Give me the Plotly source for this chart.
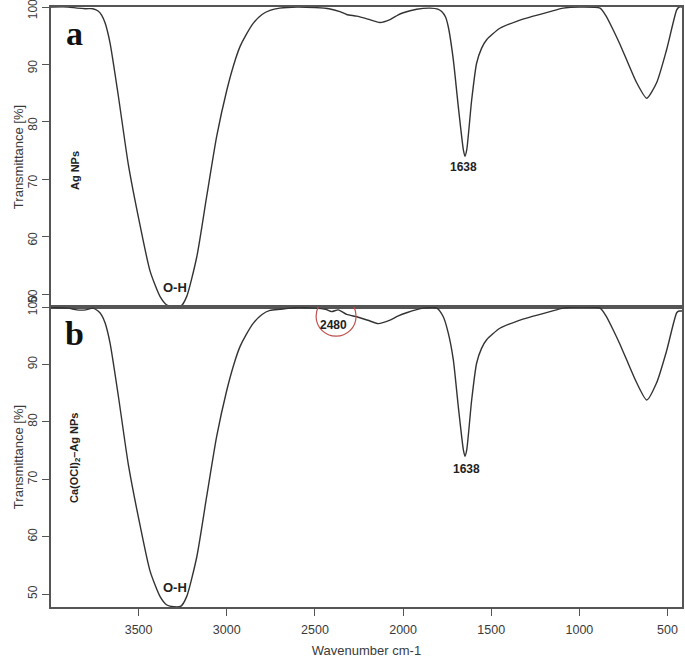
import plotly.graph_objects as go

# ---- data ----
wavenumber_a = [3997, 3900, 3850, 3800, 3760, 3730, 3710, 3690, 3662, 3615, 3558, 3492, 3435, 3379,
                3340, 3300, 3260, 3227, 3170, 3114, 3057, 3000, 2960, 2925, 2890, 2849, 2800, 2755,
                2700, 2600, 2500, 2420, 2358, 2320, 2263, 2200, 2131, 2074, 2030, 1999, 1923, 1848,
                1800, 1781, 1760, 1744, 1715, 1687, 1658, 1649, 1639, 1611, 1583, 1555, 1526, 1451,
                1356, 1262, 1167, 1091, 1000, 883, 850, 808, 770, 732, 675, 618, 562, 505, 448, 434, 418]
transmittance_a = [100, 100, 99.8, 99.7, 99.7, 99.3, 98.6, 97.2, 93.7, 84.5, 72.5, 62, 54, 49.6,
                   48.1, 47.8, 47.9, 49.6, 56.5, 67, 77.5, 85.5, 90, 93.1, 95.2, 97.2, 98.7, 99.4,
                   99.8, 100, 99.9, 99.7, 99.2, 98.7, 98.4, 97.9, 97.3, 97.8, 98.6, 99.0, 99.6, 99.8,
                   99.6, 99.2, 98.3, 96.6, 90.8, 82.7, 75.1, 74.0, 75.1, 83.8, 90.2, 92.8, 94.3, 96.3,
                   97.5, 98.4, 99.2, 99.8, 100, 99.8, 98.5, 96, 93.5, 90.8, 86.8, 84.1, 86.8, 92.6, 99.5, 100, 100]

wavenumber_b = [3997, 3900, 3850, 3800, 3760, 3730, 3710, 3690, 3662, 3615, 3558, 3492, 3435, 3379,
                3340, 3300, 3260, 3227, 3170, 3114, 3057, 3000, 2960, 2925, 2890, 2849, 2800, 2755,
                2698, 2600, 2509, 2440, 2405, 2367, 2320, 2263, 2200, 2141, 2074, 2030, 1980, 1885,
                1809, 1772, 1744, 1715, 1687, 1658, 1649, 1639, 1611, 1583, 1555, 1526, 1451,
                1356, 1262, 1167, 1091, 1000, 883, 850, 808, 770, 732, 675, 618, 562, 505, 448, 434, 418]
transmittance_b = [99.9, 99.8, 99.5, 99.5, 99.8, 99.3, 98.6, 97.2, 93.7, 84.5, 72.5, 62, 54, 49.6,
                   48.1, 47.8, 47.9, 49.6, 56.5, 67, 77.5, 85.5, 90, 93.1, 95.2, 97.2, 98.7, 99.4,
                   99.6, 99.9, 99.8, 99.6, 99.2, 99.5, 98.7, 98.3, 97.7, 97.1, 97.7, 98.4, 99.0, 99.8,
                   99.8, 98.3, 95.5, 90.8, 82.7, 75.1, 74.0, 75.1, 83.8, 90.2, 92.8, 94.3, 96.3,
                   97.5, 98.4, 99.2, 99.8, 100, 99.8, 98.5, 96, 93.5, 90.8, 86.8, 83.8, 86.8, 92.4, 99.0, 99.3, 99.3]

x_ticks = [3500, 3000, 2500, 2000, 1500, 1000, 500]
y_ticks = [50, 60, 70, 80, 90, 100]

line_col = "#333333"
axis_col = "#555555"
text_col = "#3a3a3a"
font_main = "Liberation Sans, Arial, sans-serif"

fig = go.Figure()
fig.add_trace(go.Scatter(x=wavenumber_a, y=transmittance_a, mode="lines",
                         line=dict(color=line_col, width=1.4, shape="spline", smoothing=0.6),
                         xaxis="x", yaxis="y", showlegend=False))
fig.add_trace(go.Scatter(x=wavenumber_b, y=transmittance_b, mode="lines",
                         line=dict(color=line_col, width=1.4, shape="spline", smoothing=0.6),
                         xaxis="x2", yaxis="y2", showlegend=False))

xr = [3997, 418]
yr = [47.75, 100]
common_x = dict(range=xr, showline=True, mirror=True, linecolor=axis_col, linewidth=1.5,
                showgrid=False, zeroline=False, automargin=False, ticklabeloverflow="allow")
common_y = dict(range=yr, showline=True, mirror=True, linecolor=axis_col, linewidth=1.5,
                showgrid=False, zeroline=False, tickvals=y_ticks, ticks="outside", ticklen=7,
                tickcolor=axis_col, tickangle=-90, automargin=False, ticklabeloverflow="allow",
                tickfont=dict(family=font_main, size=12, color=text_col),
                title=dict(text="Transmittance [%]", font=dict(family=font_main, size=13, color=text_col),
                           standoff=0))

fig.update_layout(
    width=685, height=658,
    margin=dict(l=51, r=3, t=7, b=51),
    plot_bgcolor="white", paper_bgcolor="white",
    xaxis=dict(**common_x, anchor="y", showticklabels=False, ticks=""),
    yaxis=dict(**common_y, domain=[0.5, 1], anchor="x", ticklabelshift=4),
    xaxis2=dict(**common_x, anchor="y2", tickvals=x_ticks, ticks="outside", ticklen=7,
                tickcolor=axis_col, ticklabelstandoff=3,
                tickfont=dict(family=font_main, size=12.5, color=text_col),
                title=dict(text="Wavenumber cm-1", font=dict(family=font_main, size=13, color=text_col),
                           standoff=14)),
    yaxis2=dict(**common_y, domain=[0, 0.5], anchor="x2"),
)

ann = []
def add(text, x, y, xref, yref, size, family=font_main, angle=0, color="#222222"):
    ann.append(dict(text=text, x=x, y=y, xref=xref, yref=yref, showarrow=False,
                    font=dict(family=family, size=size, color=color), textangle=angle))

serif = "Liberation Serif, Times New Roman, serif"
add("<b>a</b>", 3861, 95.3, "x", "y", 34, family=serif, color="#111111")
add("<b>b</b>", 3861, 95.3, "x2", "y2", 34, family=serif, color="#111111")
add("<b>Ag NPs</b>", 3861, 71.6, "x", "y", 11, angle=-90)
add("<b>Ca(OCl)<sub>2</sub>–Ag NPs</b>", 3861, 73.7, "x2", "y2", 11, angle=-90)
add("<b>O-H</b>", 3294, 51.1, "x", "y", 13)
add("<b>O-H</b>", 3294, 51.1, "x2", "y2", 13)
add("<b>1638</b>", 1655, 72.2, "x", "y", 12)
add("<b>1638</b>", 1643, 71.7, "x2", "y2", 12)
add("<b>2480</b>", 2397, 96.9, "x2", "y2", 12)
fig.update_layout(annotations=ann)

fig.add_shape(type="circle", xref="x2", yref="y2", xsizemode="pixel", ysizemode="pixel",
              xanchor=2380, yanchor=98.4, x0=-20, x1=20, y0=-20, y1=20,
              line=dict(color="#c0504d", width=1.2))

fig.write_html("out.html", config={"displayModeBar": False},
               post_script="document.body.style.margin='0';")
